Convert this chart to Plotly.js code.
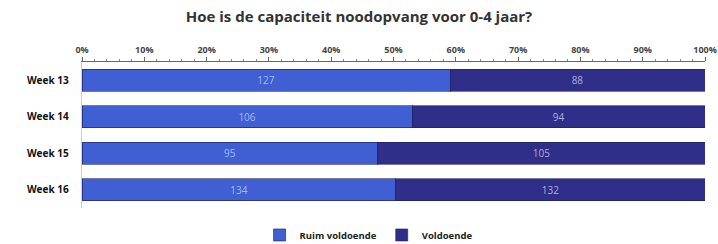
<!DOCTYPE html>
<html><head><meta charset="utf-8">
<script src="https://cdn.plot.ly/plotly-3.0.1.min.js"></script>
<style>html,body{margin:0;padding:0;background:#fff}</style>
</head><body><div id="c" style="width:718px;height:244px"></div>
<script>
const weeks = ["Week 13","Week 14","Week 15","Week 16"];
const ruimVoldoende = [127,106,95,134];
const voldoende = [88,94,105,132];
const seriesNames = ["Ruim voldoende","Voldoende"];
const tickVals = [0,10,20,30,40,50,60,70,80,90,100];
const tickText = tickVals.map(v => v + "%");

const totals = ruimVoldoende.map((v,i)=>v+voldoende[i]);
const pct = (arr)=>arr.map((v,i)=>v/totals[i]*100);

const mk = (vals, name, color, tcol) => ({
  type:"bar", orientation:"h", name:name,
  y:weeks, x:pct(vals), text:vals.map(String),
  textposition:"inside", insidetextanchor:"middle", textangle:0, constraintext:"none",
  textfont:{family:"Open Sans, sans-serif", size:10, color:tcol},
  marker:{color:color, line:{color:"rgba(30,30,90,0.6)", width:1}},
  hoverinfo:"skip"
});

const data = [
  mk(ruimVoldoende, seriesNames[0], "#3f5fd3", "rgba(190,205,255,0.85)"),
  mk(voldoende, seriesNames[1], "#2f2e88", "rgba(200,200,235,0.85)")
];

const layout = {
  width:718, height:244,
  margin:{l:82, r:13, t:62, b:36, autoexpand:false},
  barmode:"stack", bargap:0.4,
  paper_bgcolor:"#fff", plot_bgcolor:"#fff",
  title:{text:"Hoe is de capaciteit noodopvang voor 0-4 jaar?", x:0.5, xanchor:"center", y:0.93, yanchor:"middle",
    font:{family:"Open Sans, sans-serif", size:15, color:"#333", weight:"bold"}},
  xaxis:{side:"top", range:[0,100], tickvals:tickVals, ticktext:tickText,
    showgrid:false, zeroline:false, showline:true, linecolor:"#666", linewidth:1,
    ticks:"outside", ticklen:4, tickcolor:"#666",
    minor:{dtick:2, ticks:"outside", ticklen:2, tickcolor:"#888"},
    tickfont:{family:"Open Sans, sans-serif", size:9, color:"#444", weight:"bold"}, fixedrange:true},
  yaxis:{autorange:"reversed", showgrid:false, zeroline:false, showline:true, linecolor:"#ccc",
    ticks:"", ticksuffix:"    ",
    tickfont:{family:"Open Sans, sans-serif", size:10, color:"#111", weight:"bold"}, fixedrange:true},
  showlegend:true,
  legend:{orientation:"h", x:0.46, xanchor:"center", yref:"container", y:0.037, yanchor:"middle",
    font:{family:"Open Sans, sans-serif", size:9.5, color:"#222", weight:"bold"},
    itemwidth:30, traceorder:"normal"}
};
Plotly.newPlot("c", data, layout, {displayModeBar:false, staticPlot:true});
</script></body></html>
